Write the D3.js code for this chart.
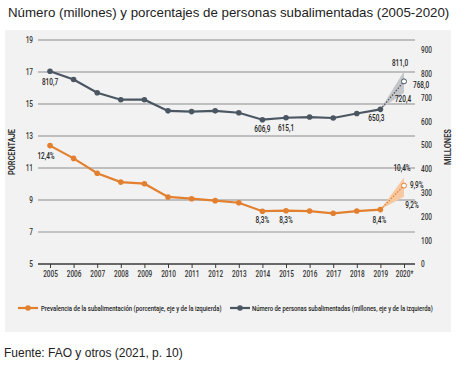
<!DOCTYPE html>
<html><head><meta charset="utf-8">
<script src="https://cdn.jsdelivr.net/npm/d3@7"></script>
<style>
body{margin:0;background:#fff;}
svg text{font-family:Roboto,"DejaVu Sans",sans-serif;font-weight:500;}
</style></head><body>
<script>
const years = ["2005","2006","2007","2008","2009","2010","2011","2012","2013","2014","2015","2016","2017","2018","2019","2020*"];
const millions = [810.7,776,720,691,691,644,641,644,636,606.9,615.1,618,614,633,650.3,768.0];
const prevalence = [12.4,11.6,10.67,10.12,10.02,9.19,9.08,8.96,8.83,8.3,8.33,8.31,8.17,8.31,8.4,9.9];
const millionsRange2020 = [720.4, 811.0];
const prevalenceRange2020 = [9.2, 10.4];
const leftTicks = [5,7,9,11,13,15,17,19];
const rightTicks = [0,100,200,300,400,500,600,700,800,900];
const millionsLabels = [{i:0,t:"810,7"},{i:9,t:"606,9"},{i:10,t:"615,1"},{i:14,t:"650,3"}];
const prevLabels = [{i:0,t:"12,4%"},{i:9,t:"8,3%"},{i:10,t:"8,3%"},{i:14,t:"8,4%"}];
const title = "Número (millones) y porcentajes de personas subalimentadas (2005-2020)";
const source = "Fuente: FAO y otros (2021, p. 10)";
const legendItems = ["Prevalencia de la subalimentación (porcentaje, eje y de la izquierda)","Número de personas subalimentadas (millones, eje y de la izquierda)"];

const W=464,H=368;
const ORANGE="#e2802f", DARK="#4b5663";
const SX=0.72;
const svg=d3.select("body").append("svg").attr("width",W).attr("height",H);

svg.append("text").attr("x",8).attr("y",17).style("font-family","'Liberation Sans',Arial,sans-serif").style("font-weight","normal")
  .style("font-size","13.3px").attr("fill","#222").text(title);
svg.append("rect").attr("x",5).attr("y",30).attr("width",446).attr("height",302).attr("fill","#f2f2f2");
svg.append("text").attr("x",4).attr("y",357).style("font-family","'Liberation Sans',Arial,sans-serif").style("font-weight","normal")
  .style("font-size","12px").attr("fill","#222").text(source);

const x=d3.scalePoint().domain(years).range([50,404]);
const yL=d3.scaleLinear().domain([5,19]).range([264,40]);
const yR=d3.scaleLinear().domain([0,900]).range([264,50]);

function ctext(g,xx,yy,t,anchor,size){
  return g.append("text").attr("transform",`translate(${xx},${yy}) scale(${SX},1)`)
    .attr("text-anchor",anchor||"middle").style("font-size",(size||9)+"px").attr("fill","#222").text(t);
}

// gridlines
const grid=svg.append("g");
leftTicks.forEach(t=>{
  let col="#8c8c8c", w=1;
  if(t===7){col="#c4c4c4";w=2;}
  if(t===5){col="#3a3a3a";w=1.6;}
  grid.append("line").attr("x1",38).attr("x2",415).attr("y1",yL(t)).attr("y2",yL(t))
    .attr("stroke",col).attr("stroke-width",w);
});

// left axis
const axL=d3.axisLeft(yL).tickValues(leftTicks).tickSize(0).tickPadding(0);
const gL=svg.append("g").attr("transform","translate(33,0)").call(axL);
gL.select(".domain").remove();
gL.selectAll("text").style("font-size","9px").attr("fill","#333").attr("transform",`scale(${SX},1)`);
// right axis
const axR=d3.axisRight(yR).tickValues(rightTicks).tickSize(0).tickPadding(0);
const gR=svg.append("g").attr("transform","translate(421,0)").call(axR);
gR.select(".domain").remove();
gR.selectAll("text").style("font-size","9px").attr("fill","#333").attr("transform",`scale(${SX},1)`);
// bottom axis
const axB=d3.axisBottom(x).tickSize(4).tickPadding(3);
const gB=svg.append("g").attr("transform","translate(0,264)").call(axB);
gB.select(".domain").remove();
gB.selectAll("line").attr("stroke","#3a3a3a");
gB.selectAll("text").style("font-size","9px").attr("fill","#333").attr("transform",`scale(${SX},1)`);

// axis titles
svg.append("text").attr("transform","translate(15,152) rotate(-90)").attr("text-anchor","middle")
  .attr("textLength",46).attr("lengthAdjust","spacingAndGlyphs")
  .style("font-size","9px").style("font-weight","bold").attr("fill","#333").text("PORCENTAJE");
svg.append("text").attr("transform","translate(451,147) rotate(-90)").attr("text-anchor","middle")
  .attr("textLength",36).attr("lengthAdjust","spacingAndGlyphs")
  .style("font-size","9px").style("font-weight","bold").attr("fill","#333").text("MILLONES");

// 2020 shaded ranges
const i19=years.length-2, i20=years.length-1;
svg.append("path").attr("d",d3.line()([[x(years[i19]),yR(millions[i19])],[x(years[i20]),yR(millionsRange2020[1])],[x(years[i20]),yR(millionsRange2020[0])]])+"Z")
  .attr("fill","#c4c6c9");
svg.append("path").attr("d",d3.line()([[x(years[i19]),yL(prevalence[i19])],[x(years[i20]),yL(prevalenceRange2020[1])],[x(years[i20]),yL(prevalenceRange2020[0])]])+"Z")
  .attr("fill","#f6c9a2");

function series(vals,scale,color){
  const pts=vals.map((v,i)=>[x(years[i]),scale(v)]);
  svg.append("path").attr("d",d3.line()(pts.slice(0,15))).attr("fill","none").attr("stroke",color).attr("stroke-width",2.2);
  svg.append("path").attr("d",d3.line()(pts.slice(14))).attr("fill","none").attr("stroke",color).attr("stroke-width",1.3).attr("stroke-dasharray","1.5,1.5");
  pts.slice(0,15).forEach(p=>svg.append("circle").attr("cx",p[0]).attr("cy",p[1]).attr("r",2.8).attr("fill",color));
  const p=pts[15];
  svg.append("circle").attr("cx",p[0]).attr("cy",p[1]).attr("r",2.5).attr("fill","#fff").attr("stroke",color).attr("stroke-width",1);
}
series(millions,yR,DARK);
series(prevalence,yL,ORANGE);

// value labels
const lab=svg.append("g");
const mOff={0:[0,14],9:[0,12],10:[0,13],14:[-4,12]};
millionsLabels.forEach(d=>{
  const o=mOff[d.i];
  ctext(lab,x(years[d.i])+o[0],yR(millions[d.i])+o[1],d.t);
});
const pOff={0:[-4,13.5],9:[0,12],10:[0,12],14:[-1,13]};
prevLabels.forEach(d=>{
  const o=pOff[d.i];
  ctext(lab,x(years[d.i])+o[0],yL(prevalence[d.i])+o[1],d.t);
});
const x20=x(years[i20]);
ctext(lab,x20-4,yR(millionsRange2020[1])-5,"811,0");
ctext(lab,x20+9,yR(millions[i20])+6.6,"768,0","start");
ctext(lab,x20-1,yR(millionsRange2020[0])+9,"720,4");
ctext(lab,x20-2,yL(prevalenceRange2020[1])-6.6,"10,4%");
ctext(lab,x20+6,yL(prevalence[i20])+2,"9,9%","start");
ctext(lab,x20+8,yL(prevalenceRange2020[0])+11,"9,2%");

// legend
const lg=svg.append("g");
[[18,ORANGE,41,legendItems[0]],[230,DARK,252,legendItems[1]]].forEach(([lx,c,tx,t])=>{
  lg.append("line").attr("x1",lx).attr("x2",lx+20).attr("y1",308).attr("y2",308).attr("stroke",c).attr("stroke-width",2.2);
  lg.append("circle").attr("cx",lx+10).attr("cy",308).attr("r",2.8).attr("fill",c);
  const tn=lg.append("text").style("font-size","8px").attr("fill","#222").text(t);
  const w=tn.node().getComputedTextLength();
  tn.attr("transform",`translate(${tx},311) scale(${181/w},1)`);
});
</script></body></html>
